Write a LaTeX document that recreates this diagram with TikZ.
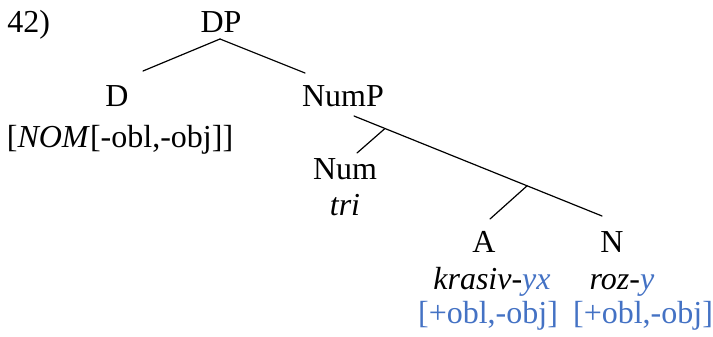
\documentclass[tikz,border=0pt]{standalone}
\usepackage{fontspec}
\setmainfont{Liberation Serif}
\usetikzlibrary{calc}
\definecolor{featblue}{HTML}{4472C4}
\begin{document}
\begin{tikzpicture}[x=0.75pt,y=-0.75pt,
  lbl/.style={anchor=base,inner sep=0pt,font=\fontsize{24}{28}\selectfont},
  feat/.style={lbl,text=featblue},
  branch/.style={line width=0.9pt,line cap=round}]
\useasboundingbox (0,0) rectangle (713,336);
\node[lbl,anchor=base west] (ex) at (7,32) {42)};
\node[lbl] (DP) at (221,32) {DP};
\node[lbl] (D) at (117,106) {D};
\node[lbl] (Dfeat) at (120,147) {[\textit{NOM}[-obl,-obj]]};
\node[lbl] (NumP) at (343,106) {NumP};
\node[lbl] (Num) at (345,179) {Num};
\node[lbl] (tri) at (345,215) {\textit{tri}};
\node[lbl] (A) at (484,252) {A};
\node[lbl] (Agl) at (492,289) {\textit{krasiv-}\textcolor{featblue}{\textit{yx}}};
\node[feat] (Afeat) at (488,323) {[+obl,-obj]};
\node[lbl] (N) at (612,252) {N};
\node[lbl] (Ngl) at (622,289) {\textit{roz-}\textcolor{featblue}{\textit{y}}};
\node[feat] (Nfeat) at (643,323) {[+obl,-obj]};
\coordinate (nps) at ([shift={(11,10)}]NumP.base);
\coordinate (ne) at ([shift={(-10,-36)}]N.base);
\coordinate (b1) at ($(nps)!0.125!(ne)$);
\coordinate (b2) at ($(nps)!0.698!(ne)$);
\draw[branch] ([shift={(-1,7)}]DP.base) -- ([shift={(26,-35)}]D.base);
\draw[branch] ([shift={(-1,7)}]DP.base) -- ([shift={(-38,-33)}]NumP.base);
\draw[branch] (nps) -- (ne);
\draw[branch] (b1) -- ([shift={(12,-26)}]Num.base);
\draw[branch] (b2) -- ([shift={(6,-33)}]A.base);
\end{tikzpicture}
\end{document}
